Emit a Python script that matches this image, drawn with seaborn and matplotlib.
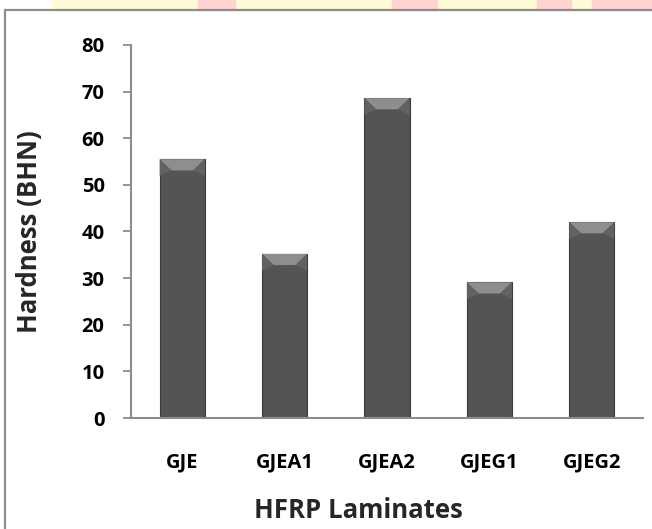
import matplotlib
matplotlib.use("Agg")
import matplotlib.pyplot as plt
from matplotlib.patches import Polygon, Rectangle
import seaborn as sns
import pandas as pd

laminates = ["GJE", "GJEA1", "GJEA2", "GJEG1", "GJEG2"]
hardness = [55.5, 35.2, 68.6, 29.1, 42.0]
y_ticks = [0, 10, 20, 30, 40, 50, 60, 70, 80]

sns.set_theme(style="white")
plt.rcParams["font.family"] = ["Open Sans", "DejaVu Sans"]

df = pd.DataFrame({"Laminate": laminates, "Hardness": hardness})

fig = plt.figure(figsize=(6.52, 5.29), dpi=100)
ax = fig.add_axes([131 / 652, 1 - 418 / 529, 512 / 652, 373 / 529])

# pale banner strip along the top edge with pink blocks
fig.patches.append(Rectangle((52 / 652, 1 - 10 / 529), 600 / 652, 10 / 529,
                             transform=fig.transFigure, color="#fffbd8", zorder=0))
for x0, x1 in [(198, 235), (392, 437), (537, 571), (592, 652)]:
    fig.patches.append(Rectangle((x0 / 652, 1 - 10 / 529), (x1 - x0) / 652, 10 / 529,
                                 transform=fig.transFigure, color="#ffd3d0", zorder=0))
# frame around the chart area
fig.patches.append(Rectangle((5 / 652, -0.05), 1.0, 1 - 10 / 529 + 0.05,
                             transform=fig.transFigure, fill=False,
                             edgecolor="#8c8c8c", linewidth=1.6, zorder=1))

sns.barplot(data=df, x="Laminate", y="Hardness", ax=ax, color="#545454",
            width=0.44, edgecolor="#3c3c3c", linewidth=0.8, saturation=1)

# bevelled top face on every bar
for p in list(ax.patches):
    x, w, h = p.get_x(), p.get_width(), p.get_height()
    bev = 2.4
    inset = w * 0.26
    ax.add_patch(Polygon([(x, h), (x + w, h), (x + w - inset, h - bev), (x + inset, h - bev)],
                         closed=True, facecolor="#8e8e8e", edgecolor="none", zorder=3))
    ax.add_patch(Polygon([(x, h), (x + inset, h - bev), (x, h - bev * 1.5)],
                         closed=True, facecolor="#626262", edgecolor="none", zorder=3))
    ax.add_patch(Polygon([(x + w, h), (x + w - inset, h - bev), (x + w, h - bev * 1.5)],
                         closed=True, facecolor="#626262", edgecolor="none", zorder=3))

ax.set_ylim(0, 80)
ax.set_xlim(-0.5, len(laminates) - 0.5)
ax.set_yticks(y_ticks)
ax.set_yticklabels([str(t) for t in y_ticks], fontsize=14.5, fontweight="bold")
ax.set_xticks(range(len(laminates)))
ax.set_xticklabels(laminates, fontsize=14.5, fontweight="bold")

ax.set_ylabel("Hardness (BHN)", fontsize=18.5, fontweight="bold")
ax.set_xlabel("HFRP Laminates", fontsize=18.5, fontweight="bold")
ax.yaxis.set_label_coords(-0.172, 0.5)
ax.xaxis.set_label_coords(0.445, -0.212)

for s in ["top", "right"]:
    ax.spines[s].set_visible(False)
for s in ["left", "bottom"]:
    ax.spines[s].set_color("#8c8c8c")
    ax.spines[s].set_linewidth(1.5)

ax.tick_params(axis="y", left=True, length=6, width=1.3, color="#8c8c8c", pad=13,
               labelcolor="black")
ax.tick_params(axis="x", bottom=False, pad=19, labelcolor="black")
ax.set_facecolor("white")
fig.patch.set_facecolor("white")

fig.savefig("out.png", dpi=100)
